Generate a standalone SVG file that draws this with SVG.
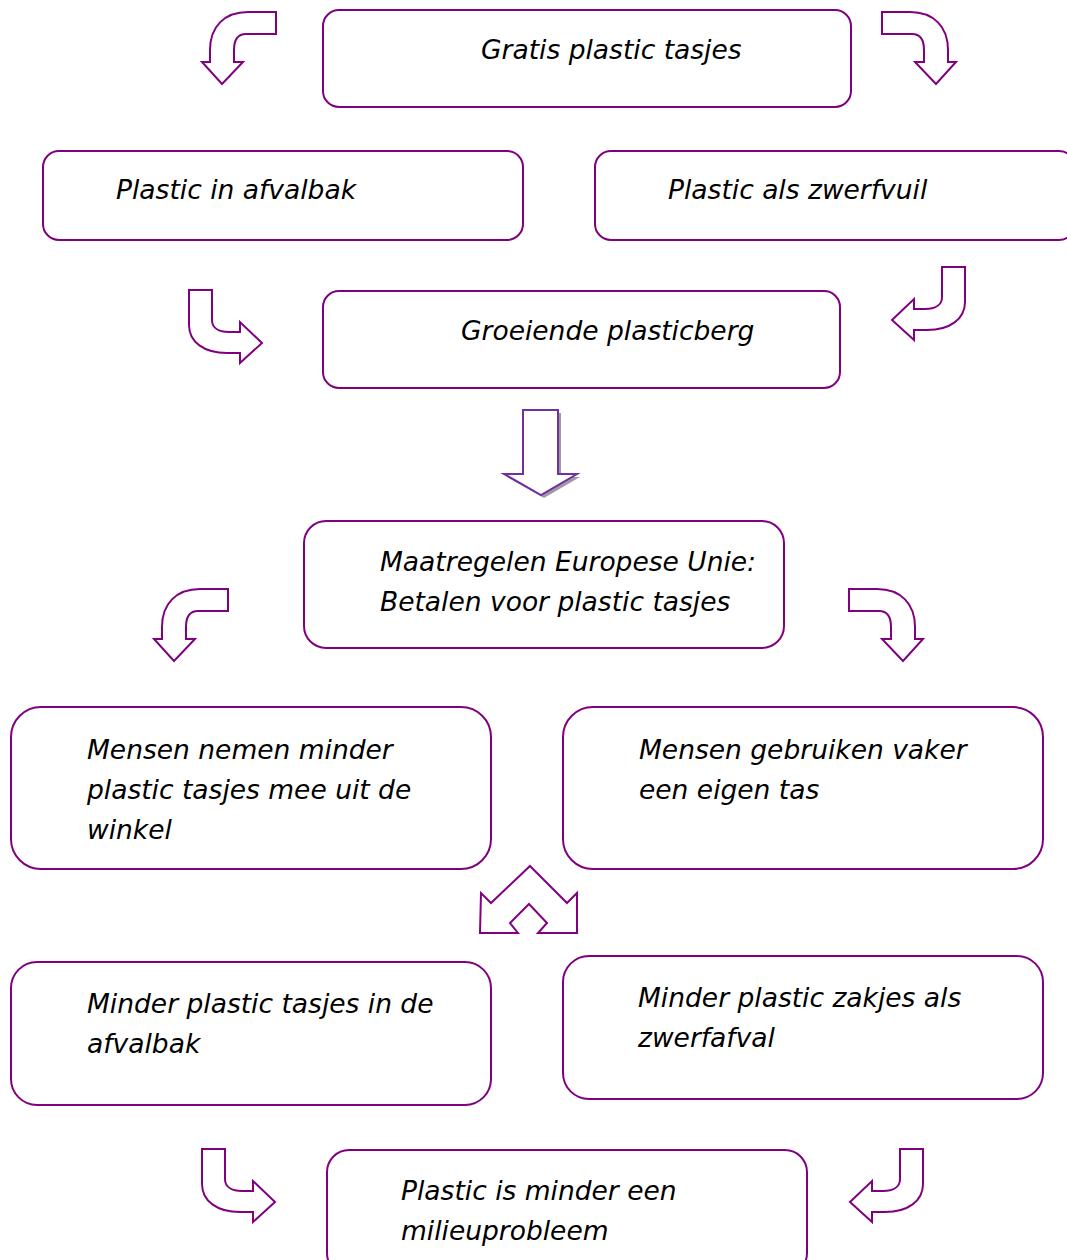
<svg xmlns="http://www.w3.org/2000/svg" width="1067" height="1260" viewBox="0 0 1067 1260">
<style>
.box{fill:#fff;stroke:#800080;stroke-width:2}
.arr{fill:#fff;stroke:#800080;stroke-width:2;stroke-linejoin:miter}
text{font-family:"DejaVu Sans",Verdana,sans-serif;font-style:italic;font-size:26.5px;fill:#000}
</style>
<defs>
<path id="curveDown" d="M74,0 L74,22 L44,22 C36,22 32,28 32,38 L32,50 L41,50 L20,72 L0,50 L8,50 L8,38 C8,15 22,0 46,0 Z"/>
<path id="curveRight" d="M0,0 L23,0 L23,30 C23,38 30,42 40,42 L51,42 L51,32 L73,53 L51,73 L51,63 L38,63 C15,63 0,52 0,35 Z"/>
</defs>
<rect width="1067" height="1260" fill="#fff"/>
<g id="connectors">
<use href="#curveDown" class="arr" transform="translate(202,12)"/>
<use href="#curveDown" class="arr" transform="translate(956,12) scale(-1,1)"/>
<use href="#curveRight" class="arr" transform="translate(189,290)"/>
<use href="#curveRight" class="arr" transform="translate(965,267) scale(-1,1)"/>
<path d="M526,413 L561,413 L561,477 L580,477 L544,498 L507,477 L526,477 Z" fill="#a09aa8" stroke="none"/>
<path class="arr" d="M523,410 L558,410 L558,474 L577,474 L541,495 L504,474 L523,474 Z" style="stroke:#7030a0"/>
<use href="#curveDown" class="arr" transform="translate(154,589)"/>
<use href="#curveDown" class="arr" transform="translate(923,589) scale(-1,1)"/>
<path class="arr" d="M530,866 L567,903 L577,893 L577,933 L538,933 L547,923 L529,904 L510,923 L518,933 L480,933 L481,893 L491,903 Z"/>
<use href="#curveRight" class="arr" transform="translate(202,1149)"/>
<use href="#curveRight" class="arr" transform="translate(923,1149) scale(-1,1)"/>
</g>
<g id="n1"><rect class="box" x="323" y="10" width="528" height="97" rx="16"/><text x="481" y="59">Gratis plastic tasjes</text></g>
<g id="n2"><rect class="box" x="43" y="151" width="480" height="89" rx="16"/><text x="116" y="199">Plastic in afvalbak</text></g>
<g id="n3"><rect class="box" x="595" y="151" width="480" height="89" rx="16"/><text x="668" y="199">Plastic als zwerfvuil</text></g>
<g id="n4"><rect class="box" x="323" y="291" width="517" height="97" rx="16"/><text x="461" y="340">Groeiende plasticberg</text></g>
<g id="n5"><rect class="box" x="304" y="521" width="480" height="127" rx="22"/><text x="380" y="571">Maatregelen Europese Unie:</text><text x="380" y="611">Betalen voor plastic tasjes</text></g>
<g id="n6"><rect class="box" x="11" y="707" width="480" height="162" rx="30"/><text x="87" y="759">Mensen nemen minder</text><text x="87" y="799">plastic tasjes mee uit de</text><text x="87" y="839">winkel</text></g>
<g id="n7"><rect class="box" x="563" y="707" width="480" height="162" rx="30"/><text x="639" y="759">Mensen gebruiken vaker</text><text x="639" y="799">een eigen tas</text></g>
<g id="n8"><rect class="box" x="11" y="962" width="480" height="143" rx="26"/><text x="87" y="1013">Minder plastic tasjes in de</text><text x="87" y="1053">afvalbak</text></g>
<g id="n9"><rect class="box" x="563" y="956" width="480" height="143" rx="26"/><text x="638" y="1007">Minder plastic zakjes als</text><text x="638" y="1047">zwerfafval</text></g>
<g id="n10"><rect class="box" x="327" y="1150" width="480" height="125" rx="22"/><text x="401" y="1200">Plastic is minder een</text><text x="401" y="1240">milieuprobleem</text></g>
</svg>
